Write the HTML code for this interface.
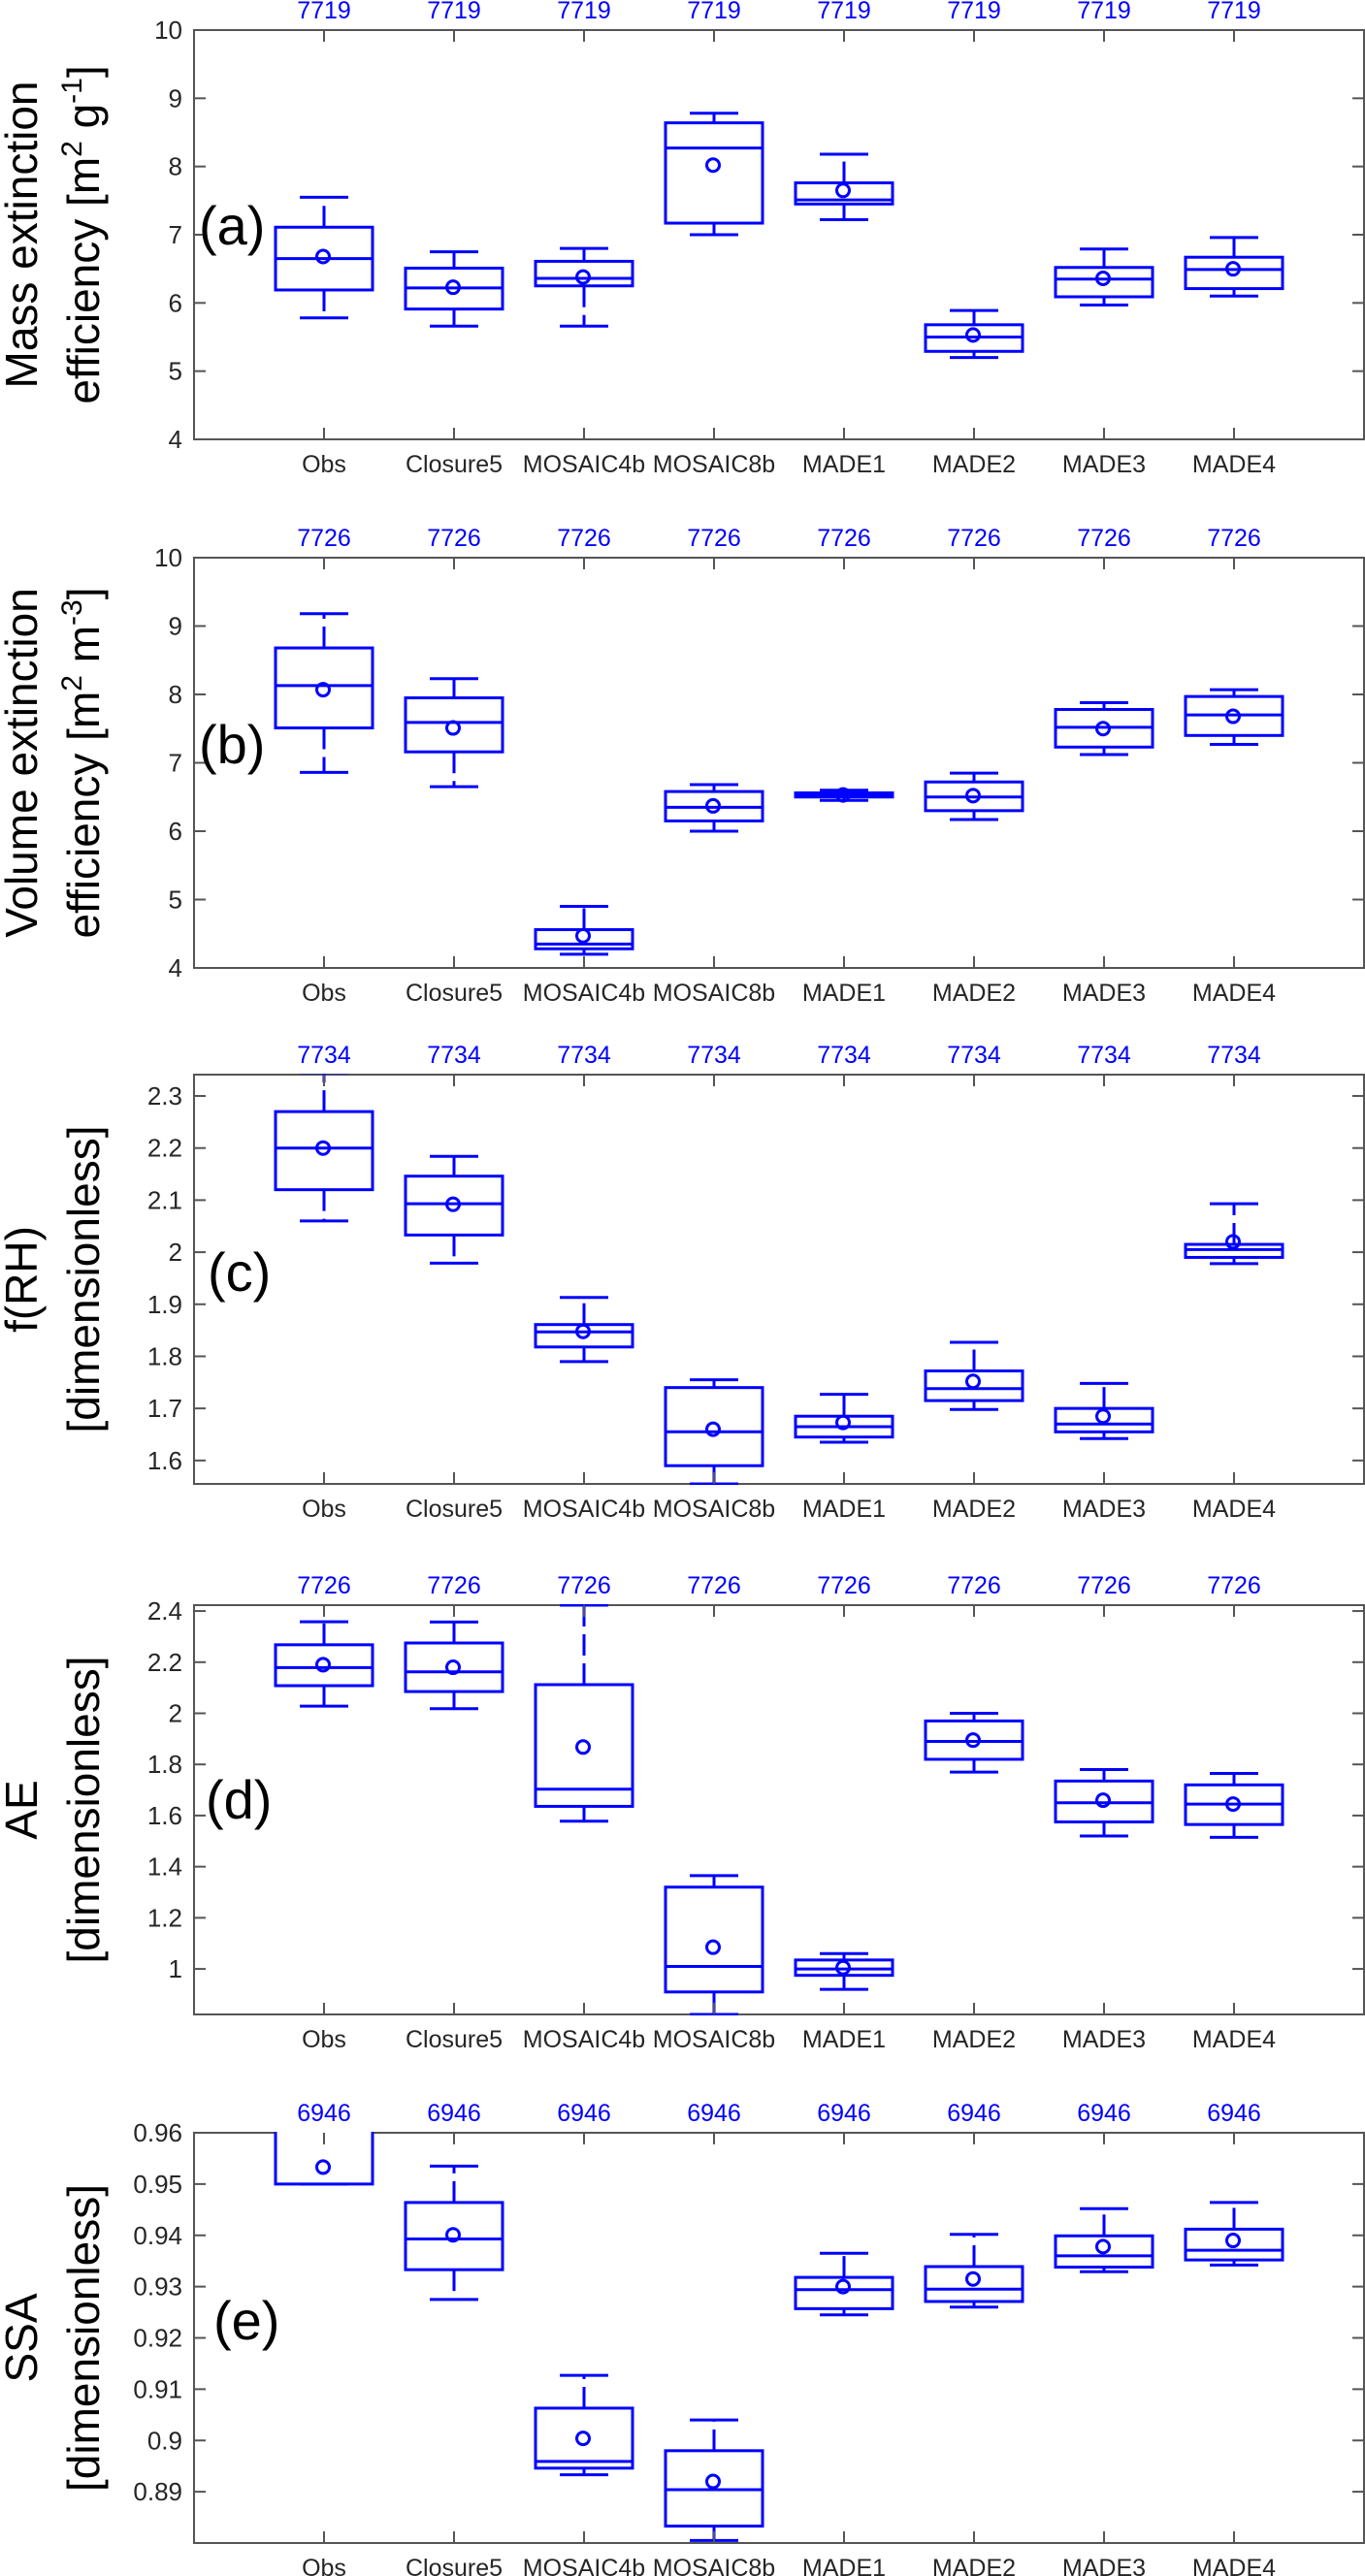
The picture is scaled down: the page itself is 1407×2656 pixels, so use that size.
<!DOCTYPE html>
<html><head><meta charset="utf-8"><style>
html,body{margin:0;padding:0;background:#fff;}
svg{display:block;font-family:"Liberation Sans",sans-serif;}
</style></head><body>
<svg id="fig" width="1407" height="2656" viewBox="0 0 1407 2656" xmlns="http://www.w3.org/2000/svg"></svg>
<script>
const categories = ["Obs","Closure5","MOSAIC4b","MOSAIC8b","MADE1","MADE2","MADE3","MADE4"];
// panel a
const aWhiskHi = [7.55,6.75,6.80,8.78,8.18,5.89,6.79,6.96];
const aQ3      = [7.11,6.51,6.61,8.64,7.76,5.68,6.52,6.67];
const aMed     = [6.65,6.22,6.36,8.27,7.51,5.50,6.35,6.49];
const aMean    = [6.68,6.23,6.38,8.02,7.65,5.53,6.36,6.50];
const aQ1      = [6.19,5.91,6.25,7.17,7.45,5.29,6.09,6.21];
const aWhiskLo = [5.78,5.66,5.66,7.00,7.22,5.20,5.97,6.10];
const aCounts  = [7719,7719,7719,7719,7719,7719,7719,7719];
const aTicks   = [4,5,6,7,8,9,10];
// panel b
const bWhiskHi = [9.18,8.23,4.90,6.68,6.60,6.85,7.88,8.07];
const bQ3      = [8.68,7.95,4.56,6.58,6.56,6.72,7.78,7.97];
const bMed     = [8.13,7.59,4.35,6.35,6.53,6.50,7.52,7.70];
const bMean    = [8.07,7.51,4.47,6.37,6.53,6.52,7.50,7.68];
const bQ1      = [7.51,7.16,4.28,6.15,6.50,6.30,7.23,7.40];
const bWhiskLo = [6.86,6.65,4.20,6.00,6.45,6.17,7.12,7.27];
const bCounts  = [7726,7726,7726,7726,7726,7726,7726,7726];
const bTicks   = [4,5,6,7,8,9,10];
// panel c
const cWhiskHi = [2.345,2.184,1.913,1.755,1.727,1.827,1.748,2.093];
const cQ3      = [2.27,2.146,1.861,1.74,1.685,1.772,1.70,2.015];
const cMed     = [2.20,2.093,1.847,1.655,1.665,1.738,1.67,2.005];
const cMean    = [2.20,2.092,1.848,1.66,1.673,1.752,1.685,2.02];
const cQ1      = [2.12,2.033,1.818,1.59,1.645,1.715,1.655,1.99];
const cWhiskLo = [2.06,1.979,1.790,1.555,1.635,1.698,1.642,1.978];
const cCounts  = [7734,7734,7734,7734,7734,7734,7734,7734];
const cTicks   = [1.6,1.7,1.8,1.9,2,2.1,2.2,2.3];
// panel d
const dWhiskHi = [2.358,2.357,2.423,1.365,1.06,2.0,1.78,1.765];
const dQ3      = [2.268,2.275,2.112,1.32,1.035,1.97,1.735,1.72];
const dMed     = [2.179,2.162,1.703,1.01,1.0,1.89,1.65,1.645];
const dMean    = [2.19,2.18,1.868,1.085,1.005,1.895,1.66,1.645];
const dQ1      = [2.108,2.085,1.636,0.91,0.975,1.82,1.575,1.565];
const dWhiskLo = [2.028,2.018,1.578,0.822,0.92,1.77,1.52,1.515];
const dCounts  = [7726,7726,7726,7726,7726,7726,7726,7726];
const dTicks   = [1,1.2,1.4,1.6,1.8,2,2.2,2.4];
// panel e
const eWhiskHi = [0.965,0.9535,0.9127,0.9040,0.9365,0.9402,0.9452,0.9464];
const eQ3      = [0.9605,0.9464,0.9063,0.8980,0.9318,0.9339,0.9399,0.9412];
const eMed     = [0.9605,0.9393,0.8959,0.8904,0.9294,0.9295,0.9360,0.9371];
const eMean    = [0.9533,0.9401,0.9004,0.8920,0.9300,0.9315,0.9378,0.9390];
const eQ1      = [0.9500,0.9333,0.8946,0.8833,0.9257,0.9271,0.9338,0.9352];
const eWhiskLo = [0.9500,0.9275,0.8933,0.8805,0.9245,0.9260,0.9329,0.9342];
const eCounts  = [6946,6946,6946,6946,6946,6946,6946,6946];
const eTicks   = [0.89,0.9,0.91,0.92,0.93,0.94,0.95,0.96];

const panels = [
 {id:"a",top:31,bottom:453,ymin:4,ymax:10,ticks:aTicks,hi:aWhiskHi,q3:aQ3,med:aMed,mean:aMean,q1:aQ1,lo:aWhiskLo,n:aCounts,t1:"Mass extinction",t2:'efficiency [m<tspan dy="-18" font-size="30">2</tspan><tspan dy="18"> g</tspan><tspan dy="-18" font-size="30">-1</tspan><tspan dy="18">]</tspan>',lbl:"(a)",lx:205,ly:252},
 {id:"b",top:575,bottom:998,ymin:4,ymax:10,ticks:bTicks,hi:bWhiskHi,q3:bQ3,med:bMed,mean:bMean,q1:bQ1,lo:bWhiskLo,n:bCounts,t1:"Volume extinction",t2:'efficiency [m<tspan dy="-18" font-size="30">2</tspan><tspan dy="18"> m</tspan><tspan dy="-18" font-size="30">-3</tspan><tspan dy="18">]</tspan>',lbl:"(b)",lx:205,ly:787},
 {id:"c",top:1108,bottom:1530,ymin:1.555,ymax:2.341,ticks:cTicks,hi:cWhiskHi,q3:cQ3,med:cMed,mean:cMean,q1:cQ1,lo:cWhiskLo,n:cCounts,t1:"f(RH)",t2:"[dimensionless]",lbl:"(c)",lx:214,ly:1331},
 {id:"d",top:1655,bottom:2077,ymin:0.822,ymax:2.423,ticks:dTicks,hi:dWhiskHi,q3:dQ3,med:dMed,mean:dMean,q1:dQ1,lo:dWhiskLo,n:dCounts,t1:"AE",t2:"[dimensionless]",lbl:"(d)",lx:212,ly:1875},
 {id:"e",top:2199,bottom:2622,ymin:0.880,ymax:0.960,ticks:eTicks,hi:eWhiskHi,q3:eQ3,med:eMed,mean:eMean,q1:eQ1,lo:eWhiskLo,n:eCounts,t1:"SSA",t2:"[dimensionless]",lbl:"(e)",lx:220,ly:2412}
];

const NS="http://www.w3.org/2000/svg";
const svg=document.getElementById("fig");
const X0=200, X1=1406;
function xPos(i){ return X0 + (i+1)*(X1-X0)/9; }
function mk(tag,attrs,parent){ const e=document.createElementNS(NS,tag); for(const k in attrs) e.setAttribute(k,attrs[k]); (parent||svg).appendChild(e); return e; }
const BLUE="#0000ff", AX="#262626";

panels.forEach(p=>{
  const g=mk("g",{});
  
  
  const yPos=v=>p.bottom-(v-p.ymin)/(p.ymax-p.ymin)*(p.bottom-p.top);
  const clipId="clip"+p.id;
  const cp=mk("clipPath",{id:clipId},g); mk("rect",{x:X0,y:p.top-1,width:X1-X0,height:p.bottom-p.top+2},cp);
  // frame
  const fr=mk("rect",{x:X0,y:p.top,width:X1-X0,height:p.bottom-p.top,fill:"none",stroke:"#555",'stroke-width':2},g);
  
  
  // y ticks
  p.ticks.forEach(t=>{
    const y=yPos(t);
    mk("line",{x1:X0,x2:X0+12,y1:y,y2:y,stroke:"#555",'stroke-width':2},g);
    mk("line",{x1:X1-12,x2:X1,y1:y,y2:y,stroke:"#555",'stroke-width':2},g);
    const tx=mk("text",{x:188,y:y+9,'text-anchor':"end",'font-size':26,fill:AX},g);
    tx.textContent=String(t);
    
    
  });
  // y title
  const cy=(p.top+p.bottom)/2;
  const t1=mk("text",{x:0,y:0,transform:`translate(38,${cy}) rotate(-90)`,'text-anchor':"middle",'font-size':46,fill:"#000"},g);
  t1.textContent=p.t1;
  
  
  const t2=mk("text",{x:0,y:0,transform:`translate(102,${cy}) rotate(-90)`,'text-anchor':"middle",'font-size':46,fill:"#000"},g);
  t2.innerHTML=p.t2;
  
  
  // panel letter
  const pl=mk("text",{x:p.lx,y:p.ly,'font-size':56,fill:"#000"},g);
  pl.textContent=p.lbl;
  
  
  const bx=mk("g",{'clip-path':`url(#${clipId})`},g);
  categories.forEach((c,i)=>{
    const x=xPos(i);
    mk("line",{x1:x,x2:x,y1:p.top,y2:p.top+12,stroke:"#555",'stroke-width':2},g);
    mk("line",{x1:x,x2:x,y1:p.bottom-12,y2:p.bottom,stroke:"#555",'stroke-width':2},g);
    const cl=mk("text",{x:x,y:p.bottom+34,'text-anchor':"middle",'font-size':25,fill:AX},g);
    cl.textContent=c;
    
    
    const nl=mk("text",{x:x,y:p.top-12,'text-anchor':"middle",'font-size':25,fill:BLUE},g);
    nl.textContent=String(p.n[i]);
    
    
    const bg=mk("g",{stroke:BLUE,'stroke-width':3,fill:"none"},bx);
    
    
    const yq3=yPos(p.q3[i]), yq1=yPos(p.q1[i]), yhi=yPos(p.hi[i]), ylo=yPos(p.lo[i]);
    mk("line",{x1:x,x2:x,y1:yq3,y2:yhi,'stroke-dasharray':"22 8"},bg);
    mk("line",{x1:x,x2:x,y1:yq1,y2:ylo,'stroke-dasharray':"22 8"},bg);
    mk("line",{x1:x-25,x2:x+25,y1:yhi,y2:yhi},bg);
    mk("line",{x1:x-25,x2:x+25,y1:ylo,y2:ylo},bg);
    mk("rect",{x:x-50,y:yq3,width:100,height:Math.max(1,yq1-yq3),fill:"#fff"},bg);
    mk("line",{x1:x-50,x2:x+50,y1:yPos(p.med[i]),y2:yPos(p.med[i])},bg);
    mk("circle",{cx:x-1,cy:yPos(p.mean[i]),r:6.5},bg);
  });
});
</script>
</body></html>
